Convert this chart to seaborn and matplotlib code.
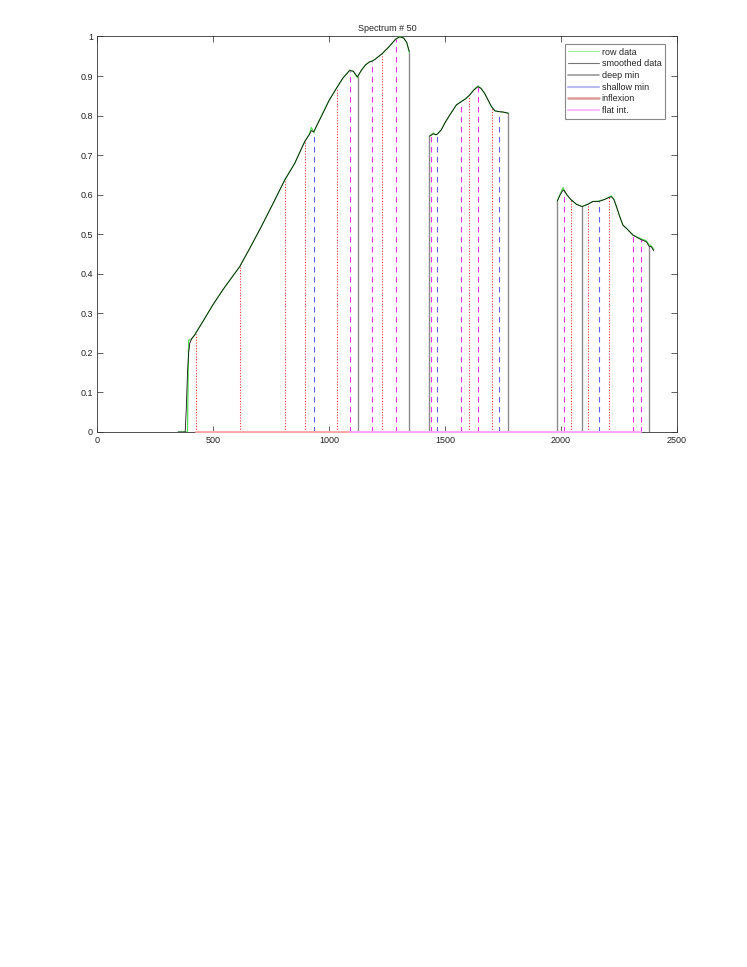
# spectrum plot with the feature markers (deep / shallow minima, inflexions, flat intervals)

import numpy as np
import pandas as pd
import seaborn as sns
import matplotlib
matplotlib.use("Agg")
import matplotlib.pyplot as plt
from matplotlib.lines import Line2D

# smoothed spectrum, three pieces (water bands removed)
seg1_wl = [350, 370, 380, 385, 390, 395, 400, 410, 421, 460, 500, 543, 580, 615, 658, 708, 759,
           809, 852, 895, 915, 924, 934, 950, 974, 1000, 1032, 1060, 1089, 1105, 1122, 1140,
           1157, 1175, 1187, 1200, 1230, 1260, 1287, 1305, 1322, 1335, 1346]
seg1_smooth = [0, 0, 0, 0.06, 0.15, 0.20, 0.225, 0.238, 0.245, 0.283, 0.322, 0.360, 0.390, 0.418,
               0.464, 0.519, 0.578, 0.637, 0.679, 0.734, 0.752, 0.762, 0.759, 0.778, 0.806, 0.838,
               0.869, 0.895, 0.914, 0.912, 0.898, 0.915, 0.928, 0.936, 0.938, 0.943, 0.957, 0.975,
               0.993, 0.999, 0.996, 0.985, 0.962]
seg1_row = [0, 0, 0, 0, 0, 0.232, 0.233, 0.236, 0.246, 0.283, 0.322, 0.360, 0.390, 0.418,
            0.464, 0.519, 0.578, 0.637, 0.679, 0.734, 0.752, 0.770, 0.757, 0.778, 0.808, 0.838,
            0.869, 0.895, 0.915, 0.912, 0.896, 0.915, 0.928, 0.936, 0.938, 0.943, 0.957, 0.975,
            0.993, 1.0, 0.996, 0.985, 0.960]

seg2_wl = [1433, 1440, 1450, 1460, 1467, 1484, 1500, 1520, 1549, 1570, 1590, 1606, 1625, 1642,
           1655, 1671, 1685, 1700, 1715, 1733, 1750, 1773]
seg2_smooth = [0.748, 0.750, 0.754, 0.752, 0.753, 0.764, 0.782, 0.801, 0.827, 0.835, 0.843, 0.852,
               0.865, 0.873, 0.869, 0.856, 0.840, 0.823, 0.812, 0.810, 0.809, 0.806]
seg2_row = [0.748, 0.752, 0.756, 0.751, 0.754, 0.764, 0.782, 0.801, 0.827, 0.836, 0.843, 0.852,
            0.866, 0.875, 0.869, 0.856, 0.840, 0.823, 0.812, 0.810, 0.809, 0.806]

seg3_wl = [1984, 1995, 2009, 2013, 2025, 2042, 2066, 2091, 2116, 2138, 2163, 2188, 2207, 2217,
           2228, 2239, 2253, 2267, 2282, 2310, 2343, 2368, 2379, 2390, 2400]
seg3_smooth = [0.584, 0.598, 0.612, 0.611, 0.600, 0.588, 0.576, 0.570, 0.576, 0.583, 0.583, 0.588,
               0.593, 0.595, 0.588, 0.570, 0.545, 0.523, 0.515, 0.498, 0.487, 0.481, 0.470, 0.468,
               0.458]
seg3_row = [0.584, 0.600, 0.618, 0.612, 0.600, 0.588, 0.576, 0.570, 0.576, 0.583, 0.584, 0.588,
            0.594, 0.597, 0.588, 0.570, 0.545, 0.523, 0.515, 0.498, 0.489, 0.483, 0.474, 0.470,
            0.462]

# feature positions (nm)
deep_min = [1125, 1346, 1433, 1773, 1984, 2091, 2379]
shallow_min = [935, 1467, 1733, 2163]
inflexion = [425, 615, 811, 895, 1034, 1228, 1603, 1701, 2042, 2116, 2207]
flat_int = [1090, 1186, 1287, 1439, 1570, 1642, 2013, 2310, 2343]

legend_labels = ["row data", "smoothed data", "deep min", "shallow min", "inflexion", "flat int."]


def build_frame():
    parts = []
    for i, (wl, sm, rw) in enumerate([(seg1_wl, seg1_smooth, seg1_row),
                                       (seg2_wl, seg2_smooth, seg2_row),
                                       (seg3_wl, seg3_smooth, seg3_row)]):
        parts.append(pd.DataFrame({"wl": wl, "smooth": sm, "row": rw, "seg": i}))
    return pd.concat(parts, ignore_index=True)


def make_plot():
    sns.set_style("ticks")
    plt.rcParams["font.family"] = ["Liberation Sans", "DejaVu Sans"]
    plt.rcParams["font.size"] = 6.5

    df = build_frame()

    fig = plt.figure(figsize=(7.47, 9.67), dpi=100)
    ax = fig.add_axes([97 / 747, 1 - 432 / 967, 580 / 747, 395.5 / 967])

    c_row = "#55dd55"
    c_deep = "#8a8a8a"
    c_shallow = "#6060ff"
    c_inf = "#ff3030"
    c_flat = "#ee33ee"

    # baseline left by the marker vectors (drawn over the bottom spine)
    ax.plot([425, 1090], [0, 0], color="#ffaaaa", lw=1.4, zorder=5, clip_on=False)
    ax.plot([1090, 2343], [0, 0], color="#ffaaff", lw=1.4, zorder=5, clip_on=False)

    # markers from 0 up to the smoothed curve
    marker_styles = [(deep_min, c_deep, "-", 1.0),
                     (shallow_min, c_shallow, (0, (5, 4)), 0.8),
                     (inflexion, c_inf, (0, (1, 1.5)), 0.8),
                     (flat_int, c_flat, (0, (5, 4)), 0.8)]
    for pos_list, col, ls, lw in marker_styles:
        tops = np.interp(pos_list, df["wl"], df["smooth"])
        for p, h in zip(pos_list, tops):
            ax.plot([p, p], [0, h], color=col, ls=ls, lw=lw, zorder=2)

    sns.lineplot(data=df, x="wl", y="row", units="seg", estimator=None, sort=False,
                 color=c_row, lw=0.9, ax=ax, zorder=3)
    sns.lineplot(data=df, x="wl", y="smooth", units="seg", estimator=None, sort=False,
                 color="#111111", lw=0.6, ax=ax, zorder=4)

    ax.set_xlim(0, 2500)
    ax.set_ylim(0, 1)
    ax.set_xticks(np.arange(0, 2501, 500))
    ax.set_yticks(np.arange(0, 1.01, 0.1))
    ax.set_yticklabels([f"{v:g}" for v in np.round(np.arange(0, 1.01, 0.1), 1)])
    ax.set_xlabel("")
    ax.set_ylabel("")
    ax.tick_params(direction="in", length=4, width=0.5, top=True, right=True,
                   labelsize=6.5, pad=3, colors="#222222")
    for s in ax.spines.values():
        s.set_linewidth(0.6)
        s.set_color("#333333")
    ax.set_title("Spectrum # 50", fontsize=6.5, pad=4)

    handles = [Line2D([], [], color="#aaeeaa", lw=1.0),
               Line2D([], [], color="#777777", lw=0.8),
               Line2D([], [], color="#999999", lw=1.2),
               Line2D([], [], color="#bbbbee", lw=1.5),
               Line2D([], [], color="#dd9999", lw=1.8),
               Line2D([], [], color="#ffbbff", lw=1.5)]
    leg = ax.legend(handles, legend_labels, loc="upper right",
                    bbox_to_anchor=((665 - 97) / 580, 1 - (44 - 36.5) / 395.5),
                    borderaxespad=0, fontsize=6.5, handlelength=3.4, handletextpad=0.3,
                    labelspacing=0.3, borderpad=0.4, fancybox=False, framealpha=1)
    leg.get_frame().set_edgecolor("#888888")
    leg.get_frame().set_linewidth(0.8)

    fig.savefig("out.png", dpi=100)


if __name__ == "__main__":
    make_plot()
